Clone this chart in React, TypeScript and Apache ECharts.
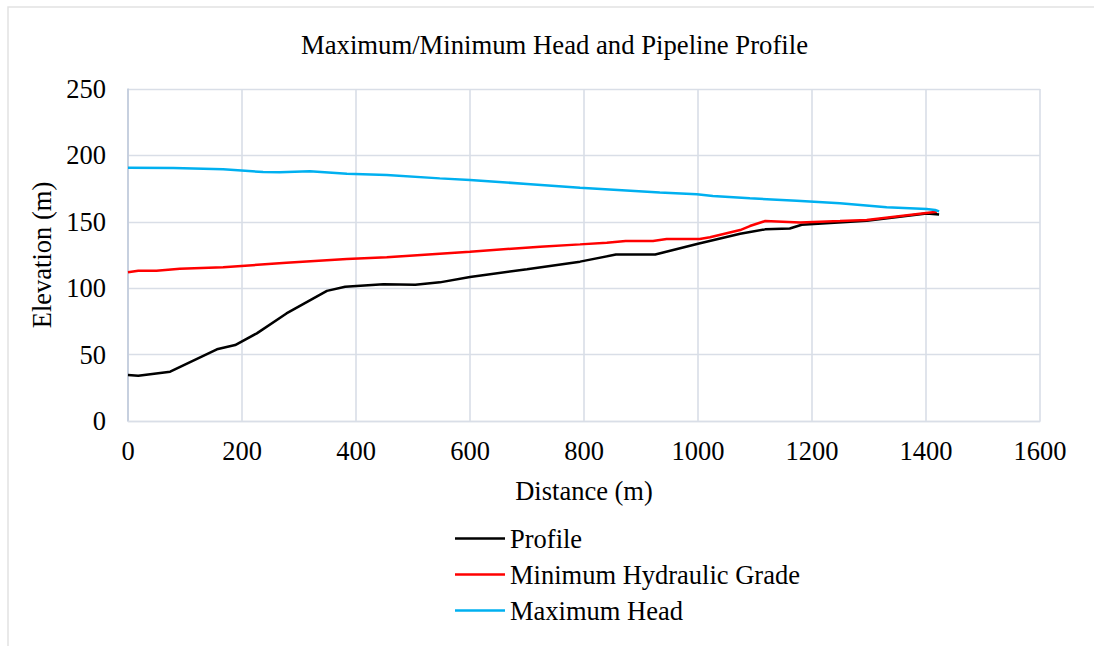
import React, { useEffect, useRef } from "react";
import * as echarts from "echarts";

const titleText = "Maximum/Minimum Head and Pipeline Profile";
const xAxisName = "Distance (m)";
const yAxisName = "Elevation (m)";

const profileX = [0, 18, 74, 156, 188, 226, 278, 349, 381, 448, 504, 547, 600, 700, 793, 856, 925, 1000, 1074, 1118, 1161, 1182, 1296, 1401, 1423];
const profileY = [34.6, 34.1, 37.1, 54, 57.2, 66, 81, 98, 101.1, 103, 102.6, 104.4, 108.5, 114.3, 120, 125.3, 125.4, 133.5, 141, 144.3, 145, 147.8, 150.8, 156.3, 155.5];

const minHgX = [0, 18, 50, 91, 167, 278, 384, 454, 547, 600, 723, 793, 840, 873, 921, 945, 1003, 1021, 1074, 1091, 1118, 1179, 1249, 1296, 1419];
const minHgY = [112, 113.2, 113.2, 114.7, 115.7, 119.2, 122, 123.3, 126, 127.5, 131.3, 133, 134.2, 135.5, 135.6, 137, 137.1, 138.3, 143.8, 146.8, 150.6, 149.5, 150.6, 151.4, 157.6];

const maxHeadX = [0, 80, 167, 237, 266, 319, 384, 454, 547, 600, 700, 793, 933, 998, 1026, 1091, 1173, 1249, 1331, 1401, 1416, 1423];
const maxHeadY = [190.7, 190.5, 189.5, 187.5, 187.3, 188, 186.2, 185.2, 182.7, 181.5, 178.5, 175.7, 172, 170.7, 169.4, 167.7, 165.9, 163.9, 160.9, 159.6, 158.9, 157.8];

const seriesNames = ["Profile", "Minimum Hydraulic Grade", "Maximum Head"];
const seriesColors = ["#000000", "#ff0000", "#00b0f0"];

const zip = (xs: number[], ys: number[]) => xs.map((x, i) => [x, ys[i]]);

const FONT = "'Liberation Serif', 'Times New Roman', serif";
const FS = 26.5;

export default function App() {
  const ref = useRef<HTMLDivElement>(null);
  useEffect(() => {
    document.body.style.margin = "0";
    const chart = echarts.init(ref.current!, undefined, { renderer: "svg" });
    const datasets = [zip(profileX, profileY), zip(minHgX, minHgY), zip(maxHeadX, maxHeadY)];
    chart.setOption({
      animation: false,
      backgroundColor: "#ffffff",
      title: {
        text: titleText,
        left: 296,
        top: 26,
        textStyle: { fontFamily: FONT, fontSize: 26.7, fontWeight: "normal", color: "#000" },
      },
      graphic: [
        {
          type: "rect",
          shape: { x: 8, y: 7, width: 1200, height: 800 },
          style: { fill: "none", stroke: "#e2e2e2", lineWidth: 1.5 },
          silent: true,
        },
      ],
      legend: {
        orient: "vertical",
        left: 450,
        top: 520,
        icon: "rect",
        itemWidth: 50,
        itemHeight: 2.5,
        itemGap: 9,
        textStyle: { fontFamily: FONT, fontSize: FS, color: "#000", lineHeight: 26 },
        data: seriesNames,
      },
      grid: { left: 128, right: 54, top: 89, bottom: 225 },
      xAxis: {
        type: "value",
        min: 0,
        max: 1600,
        interval: 200,
        name: xAxisName,
        nameLocation: "middle",
        nameGap: 56,
        nameTextStyle: { fontFamily: FONT, fontSize: FS, color: "#000" },
        axisLine: { show: true, lineStyle: { color: "#d9dee7", width: 1.3 } },
        axisTick: { show: false },
        axisLabel: {
          fontFamily: FONT,
          fontSize: FS,
          color: "#000",
          margin: 16,
          formatter: (v: number) => String(v),
        },
        splitLine: { show: true, lineStyle: { color: "#d9dee7", width: 1.6 } },
      },
      yAxis: {
        type: "value",
        min: 0,
        max: 250,
        interval: 50,
        name: yAxisName,
        nameLocation: "middle",
        nameGap: 72,
        nameTextStyle: { fontFamily: FONT, fontSize: FS, color: "#000" },
        axisLine: { show: true, lineStyle: { color: "#bfcadb", width: 1.5 } },
        axisTick: { show: false },
        axisLabel: {
          fontFamily: FONT,
          fontSize: FS,
          color: "#000",
          margin: 22,
          formatter: (v: number) => String(v),
        },
        splitLine: { show: true, lineStyle: { color: "#d9dee7", width: 1.3 } },
      },
      series: seriesNames.map((name, i) => ({
        name,
        type: "line",
        data: datasets[i],
        showSymbol: false,
        symbol: "none",
        color: seriesColors[i],
        lineStyle: { color: seriesColors[i], width: 2.5 },
      })),
    });
    return () => chart.dispose();
  }, []);
  return <div ref={ref} style={{ width: 1094, height: 646 }} />;
}
